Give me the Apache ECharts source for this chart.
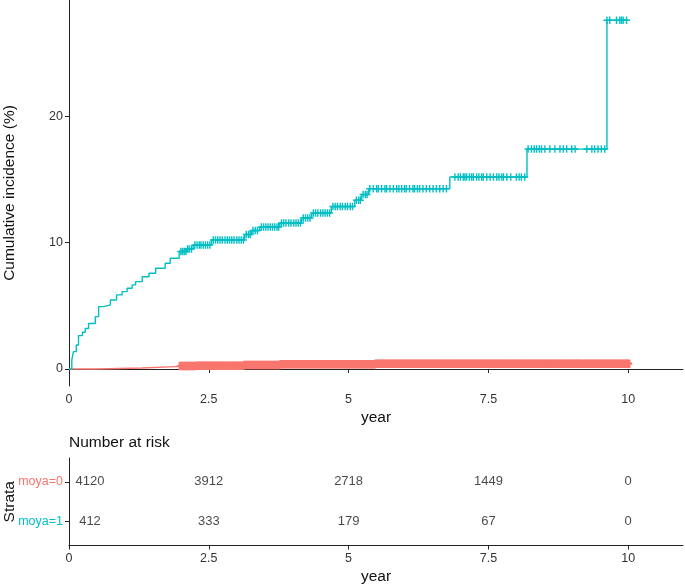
<!DOCTYPE html>
<html>
<head>
<meta charset="utf-8">
<script src="https://cdn.jsdelivr.net/npm/echarts@6/dist/echarts.min.js"></script>
<style>
html,body{margin:0;padding:0;background:#fff;}
#c{width:685px;height:585px;}
</style>
</head>
<body>
<div id="c"></div>
<script>
// ---- data ----
const strata = ['moya=0', 'moya=1'];
const xTicks = [0, 2.5, 5, 7.5, 10];
const yTicks = [0, 10, 20];

// cumulative incidence step curves (time in years, value in %)
const redTimes  = [0, 0.5, 1.3, 1.9, 2.3, 3.15, 3.8, 5.5, 10.0];
const redValues = [0, 0.08, 0.18, 0.24, 0.26, 0.32, 0.38, 0.42, 0.42];

const tealTimes  = [0, 0.05, 0.08, 0.13, 0.17, 0.24, 0.29, 0.35, 0.47, 0.53, 0.62, 0.74, 0.85, 0.95, 1.04, 1.13, 1.19, 1.31, 1.43, 1.55, 1.72, 1.81, 1.97, 2.1, 2.22, 2.55, 3.14, 3.26, 3.41, 3.77, 4.16, 4.34, 4.69, 5.11, 5.23, 5.36, 6.81, 8.19, 9.62, 10.0];
const tealValues = [0, 0.7, 1.37, 1.9, 2.64, 2.9, 3.2, 3.6, 4.14, 4.93, 5.07, 5.46, 5.86, 6.12, 6.39, 6.65, 6.91, 7.3, 7.57, 7.97, 8.37, 8.76, 9.3, 9.5, 9.8, 10.2, 10.65, 10.95, 11.23, 11.55, 11.95, 12.35, 12.85, 13.35, 13.8, 14.27, 15.2, 17.4, 27.6, 27.6];

// censoring times
const redCensor = [
 2.00,2.05,2.10,2.15,2.20,2.25,2.30,2.35,2.40,2.45,2.50,2.55,2.60,2.65,2.70,2.75,2.80,2.85,2.90,2.95,
 3.00,3.05,3.10,3.15,3.20,3.25,3.30,3.35,3.40,3.45,3.50,3.55,3.60,3.65,3.70,3.75,3.80,3.85,3.90,3.95,
 4.00,4.05,4.10,4.15,4.20,4.25,4.30,4.35,4.40,4.45,4.50,4.55,4.60,4.65,4.70,4.75,4.80,4.85,4.90,4.95,
 5.00,5.05,5.10,5.15,5.20,5.25,5.30,5.35,5.40,5.45,5.50,5.55,5.60,5.65,5.70,5.75,5.80,5.85,5.90,5.95,
 6.00,6.05,6.10,6.15,6.20,6.25,6.30,6.35,6.40,6.45,6.50,6.55,6.60,6.65,6.70,6.75,6.80,6.85,6.90,6.95,
 7.00,7.05,7.10,7.15,7.20,7.25,7.30,7.35,7.40,7.45,7.50,7.55,7.60,7.65,7.70,7.75,7.80,7.85,7.90,7.95,
 8.00,8.05,8.10,8.15,8.20,8.25,8.30,8.35,8.40,8.45,8.50,8.55,8.60,8.65,8.70,8.75,8.80,8.85,8.90,8.95,
 9.00,9.05,9.10,9.15,9.20,9.25,9.30,9.35,9.40,9.45,9.50,9.55,9.60,9.65,9.70,9.75,9.80,9.85,9.90,9.95,10.00];
const tealCensor = [
 2.00,2.03,2.06,2.09,2.12,2.15,2.19,2.25,2.29,2.33,2.36,2.40,2.44,2.48,2.52,
 2.58,2.62,2.66,2.70,2.74,2.79,2.83,2.87,2.91,2.95,3.00,3.04,3.08,3.12,
 3.17,3.21,3.24,3.29,3.33,3.37,3.44,3.48,3.52,3.56,3.60,3.64,3.68,3.72,3.75,
 3.80,3.84,3.88,3.93,3.97,4.02,4.06,4.10,4.14,4.19,4.23,4.27,4.31,
 4.37,4.41,4.45,4.50,4.54,4.58,4.62,4.66,4.72,4.76,4.80,4.85,4.89,4.94,4.98,5.03,5.07,
 5.14,5.18,5.21,5.26,5.30,5.33,
 5.38,5.44,5.50,5.53,5.59,5.65,5.68,5.74,5.80,5.86,5.90,5.95,6.00,6.03,6.09,6.15,6.18,6.23,6.27,6.33,6.39,6.45,6.51,6.57,6.63,6.69,6.75,
 6.90,6.96,7.00,7.05,7.08,7.11,7.16,7.20,7.23,7.29,7.33,7.38,7.41,7.47,7.53,7.59,7.65,7.69,7.74,7.77,7.83,7.90,8.00,8.05,8.09,8.15,
 8.21,8.27,8.32,8.36,8.41,8.45,8.51,8.60,8.69,8.78,8.84,8.90,8.99,9.05,9.26,9.35,9.40,9.46,9.52,9.58,
 9.62,9.67,9.79,9.85,9.88,9.91,9.97];

// number at risk
const riskTimes = [0, 2.5, 5, 7.5, 10];
const riskMoya0 = [4120, 3912, 2718, 1449, 0];
const riskMoya1 = [412, 333, 179, 67, 0];

// ---- build ----
const RED = '#F8766D', TEAL = '#00BFC4';
const FONT = '"Liberation Sans", Arial, sans-serif';
function stepAt(times, vals, t) {
  let v = vals[0];
  for (let i = 0; i < times.length; i++) { if (times[i] <= t + 1e-9) v = vals[i]; }
  return v;
}
const zip = (a, b) => a.map((x, i) => [x, b[i]]);
const crossPath = 'path://M0,4H10V6H0Z M4,0H6V10H4Z';
const crossThick = 'path://M0,3.8H10V6.2H0Z M2.2,0H7.8V10H2.2Z';

const riskData = [];
[riskMoya0, riskMoya1].forEach((arr, r) => {
  arr.forEach((n, i) => {
    const item = { value: [riskTimes[i], r + 1, n] };
    if (riskTimes[i] === 0) item.label = { offset: [21, 0] };
    riskData.push(item);
  });
});

const axisLineStyle = { color: '#222', width: 1 };
const labelStyle = { color: '#333', fontSize: 12.5, fontFamily: FONT };
const xFmt = v => String(v);

const option = {
  animation: false,
  backgroundColor: '#fff',
  textStyle: { fontFamily: FONT },
  title: {
    text: 'Number at risk', left: 69, top: 435, padding: 0,
    textStyle: { fontSize: 15.5, fontWeight: 'normal', color: '#111', fontFamily: FONT }
  },
  grid: [
    { left: 69, top: 0, width: 614, height: 386, outerBoundsMode: 'none', containLabel: false },
    { left: 69, top: 458, width: 614, height: 87.5, outerBoundsMode: 'none', containLabel: false }
  ],
  xAxis: [
    {
      gridIndex: 0, type: 'value', min: 0, max: 10.98,
      axisLine: { lineStyle: axisLineStyle },
      axisTick: { show: true, length: 4, lineStyle: axisLineStyle, customValues: xTicks },
      axisLabel: Object.assign({ margin: 7, customValues: xTicks, formatter: xFmt }, labelStyle),
      splitLine: { show: false },
      name: 'year', nameLocation: 'middle', nameGap: 24, nameMoveOverlap: false,
      nameTextStyle: { fontSize: 15.5, color: '#111', fontFamily: FONT }
    },
    {
      gridIndex: 1, type: 'value', min: 0, max: 10.98,
      axisLine: { lineStyle: axisLineStyle },
      axisTick: { show: true, length: 4, lineStyle: axisLineStyle, customValues: xTicks },
      axisLabel: Object.assign({ margin: 7, customValues: xTicks, formatter: xFmt }, labelStyle),
      splitLine: { show: false },
      name: 'year', nameLocation: 'middle', nameGap: 23, nameMoveOverlap: false,
      nameTextStyle: { fontSize: 15.5, color: '#111', fontFamily: FONT }
    }
  ],
  yAxis: [
    {
      gridIndex: 0, type: 'value', min: -1.35, max: 29.2,
      axisLine: { show: true, lineStyle: axisLineStyle },
      axisTick: { show: true, length: 4, lineStyle: axisLineStyle, customValues: yTicks },
      axisLabel: Object.assign({ margin: 6, customValues: yTicks }, labelStyle),
      splitLine: { show: false },
      name: 'Cumulative incidence (%)', nameLocation: 'middle', nameGap: 51, nameRotate: 90,
      nameMoveOverlap: false,
      nameTextStyle: { fontSize: 15.5, color: '#111', fontFamily: FONT }
    },
    {
      gridIndex: 1, type: 'value', min: 0.4, max: 2.6, inverse: true,
      axisLine: { show: true, lineStyle: axisLineStyle },
      axisTick: { show: true, length: 4, lineStyle: axisLineStyle, customValues: [1, 2] },
      axisLabel: {
        margin: 6, customValues: [1, 2], fontSize: 12.5, fontFamily: FONT,
        formatter: v => (v === 1 ? '{a|' + strata[0] + '}' : '{b|' + strata[1] + '}'),
        rich: {
          a: { color: RED, fontSize: 12.5, fontFamily: FONT },
          b: { color: TEAL, fontSize: 12.5, fontFamily: FONT }
        }
      },
      splitLine: { show: false },
      name: 'Strata', nameLocation: 'middle', nameGap: 51, nameRotate: 90,
      nameMoveOverlap: false,
      nameTextStyle: { fontSize: 15.5, color: '#111', fontFamily: FONT }
    }
  ],
  series: [
    {
      name: strata[0], type: 'line', step: 'end', xAxisIndex: 0, yAxisIndex: 0,
      data: zip(redTimes, redValues), showSymbol: false, symbol: 'none',
      lineStyle: { color: RED, width: 1.4 }, z: 2
    },
    {
      name: strata[0] + ' censored', type: 'scatter', xAxisIndex: 0, yAxisIndex: 0,
      data: redCensor.map(t => [t, stepAt(redTimes, redValues, t)]),
      symbol: crossThick, symbolSize: [8, 8.5], itemStyle: { color: RED, opacity: 1 }, z: 2
    },
    {
      name: strata[1], type: 'line', step: 'end', xAxisIndex: 0, yAxisIndex: 0,
      data: zip(tealTimes, tealValues), showSymbol: false, symbol: 'none',
      lineStyle: { color: TEAL, width: 1.4 }, z: 3
    },
    {
      name: strata[1] + ' censored', type: 'scatter', xAxisIndex: 0, yAxisIndex: 0,
      data: tealCensor.map(t => [t, stepAt(tealTimes, tealValues, t)]),
      symbol: crossPath, symbolSize: [7, 7.5], itemStyle: { color: TEAL, opacity: 1 }, z: 3
    },
    {
      name: 'risk', type: 'scatter', xAxisIndex: 1, yAxisIndex: 1,
      data: riskData, symbolSize: 1, itemStyle: { color: 'rgba(0,0,0,0)' },
      label: {
        show: true, position: 'inside', formatter: p => String(p.data.value[2]),
        fontSize: 13, color: '#1a1a1a', fontFamily: FONT
      },
      silent: true
    }
  ]
};
const chart = echarts.init(document.getElementById('c'), null, { renderer: 'canvas' });
chart.setOption(option);
</script>
</body>
</html>
